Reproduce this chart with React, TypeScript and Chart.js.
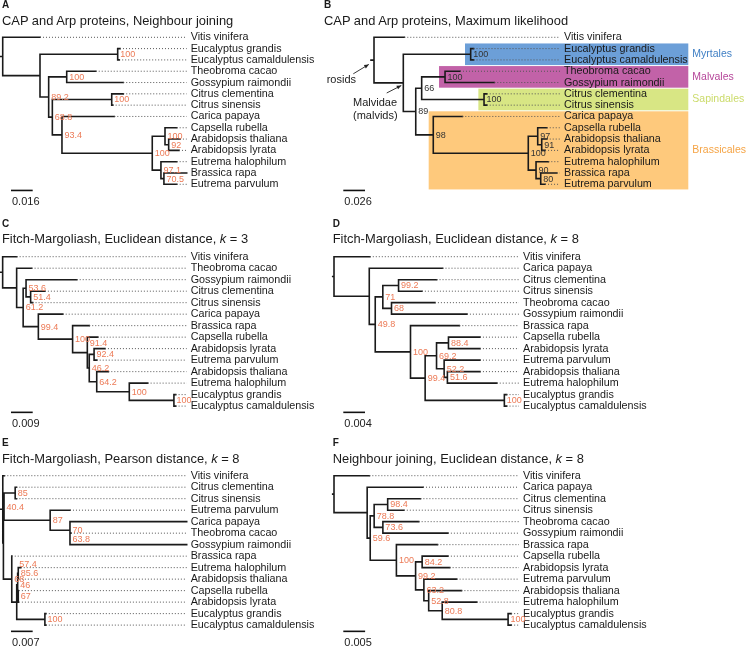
import React, { useEffect, useRef } from "react";
import { Chart, registerables } from "chart.js";
Chart.register(...registerables);

const FONT = "'Liberation Sans', Arial, Helvetica, sans-serif";

// ---------- Panel A : Neighbour joining ----------
const A_tips = ["Vitis vinifera","Eucalyptus grandis","Eucalyptus camaldulensis","Theobroma cacao","Gossypium raimondii","Citrus clementina","Citrus sinensis","Carica papaya","Capsella rubella","Arabidopsis thaliana","Arabidopsis lyrata","Eutrema halophilum","Brassica rapa","Eutrema parvulum"];
const A_tipX = [0.0275,0.0865,0.0859,0.0686,0.0889,0.0889,0.0811,0.0823,0.1283,0.1307,0.1300,0.1283,0.1357,0.1283];
const A_nodes = ["root","n1","euc","n2","malv","n3","cit","n4","bra","ca","ara","eb","be"];
const A_nodeX = [0,0.0275,0.0848,0.0339,0.0472,0.0366,0.0804,0.0437,0.1103,0.1197,0.1224,0.1167,0.1189];
const A_kids = [["t0","n1"],["euc","n2"],["t1","t2"],["malv","n3"],["t3","t4"],["cit","n4"],["t5","t6"],["t7","bra"],["ca","eb"],["t8","ara"],["t9","t10"],["t11","be"],["t12","t13"]];
const A_support = ["","","100","89.2","100","68.8","100","93.4","100","100","92","97.1","70.5"];
const A_xRange = [-0.002, 0.1357];
const A_bar = 0.016;

// ---------- Panel B : Maximum likelihood ----------
const B_tips = A_tips;
const B_tipX = [0.0363,0.1192,0.1192,0.1030,0.1441,0.1350,0.1350,0.1058,0.2069,0.2069,0.2049,0.2088,0.2189,0.2049];
const B_nodes = ["root","n1","euc","n2","n3","malv","cit","n4","bra","ca","ara","eb","be"];
const B_nodeX = [0,0.0351,0.1158,0.0500,0.0571,0.0851,0.1318,0.0710,0.1848,0.1961,0.2009,0.1941,0.1997];
const B_kids = [["t0","n1"],["euc","n2"],["t1","t2"],["n3","n4"],["malv","cit"],["t3","t4"],["t5","t6"],["t7","bra"],["ca","eb"],["t8","ara"],["t9","t10"],["t11","be"],["t12","t13"]];
const B_support = ["","","100","89","66","100","100","98","100","97","91","90","80"];
const B_xRange = [-0.0036, 0.2228];
const B_bar = 0.026;
const B_clades = ["Myrtales","Malvales","Sapindales","Brassicales"];
const B_cladeFirst = [1,3,5,7];
const B_cladeLast = [2,4,6,13];
const B_cladeX = [0.1090,0.0779,0.1250,0.0655];

// ---------- Panel C : FM Euclidean k=3 ----------
const C_tips = ["Vitis vinifera","Theobroma cacao","Gossypium raimondii","Citrus clementina","Citrus sinensis","Carica papaya","Brassica rapa","Capsella rubella","Arabidopsis lyrata","Eutrema parvulum","Arabidopsis thaliana","Eutrema halophilum","Eucalyptus grandis","Eucalyptus camaldulensis"];
const C_tipX = [0.0058,0.0120,0.0307,0.0175,0.0124,0.0249,0.0359,0.0394,0.0424,0.0390,0.0438,0.0601,0.0717,0.0717];
const C_nodes = ["root","n1","n612","n536","cit","n4","n5","n6","n7","n8","n9","n10","euc"];
const C_nodeX = [0,0.0058,0.0085,0.0097,0.0116,0.0148,0.0290,0.0351,0.0359,0.0379,0.0390,0.0525,0.0710];
const C_kids = [["t0","n1"],["t1","n612"],["n536","n4"],["t2","cit"],["t3","t4"],["t5","n5"],["t6","n6"],["t7","n7"],["n8","n9"],["t8","t9"],["t10","n10"],["t11","euc"],["t12","t13"]];
const C_support = ["","","61.2","53.6","51.4","99.4","100","91.4","46.2","92.4","64.2","100","100"];
const C_xRange = [-0.0011, 0.0763];
const C_bar = 0.009;

// ---------- Panel D : FM Euclidean k=8 ----------
const D_tips = ["Vitis vinifera","Carica papaya","Citrus clementina","Citrus sinensis","Theobroma cacao","Gossypium raimondii","Brassica rapa","Capsella rubella","Arabidopsis lyrata","Eutrema parvulum","Arabidopsis thaliana","Eutrema halophilum","Eucalyptus grandis","Eucalyptus camaldulensis"];
const D_tipX = [0.0066,0.0200,0.0189,0.0162,0.0186,0.0245,0.0231,0.0269,0.0269,0.0269,0.0269,0.0300,0.0318,0.0318];
const D_nodes = ["root","n1","n2","n3","cit","malv","n4","n5","n6","ca","n7","n8","euc"];
const D_nodeX = [0,0.0065,0.0076,0.0090,0.0119,0.0106,0.0141,0.0168,0.0189,0.0211,0.0203,0.0209,0.0314];
const D_kids = [["t0","n1"],["t1","n2"],["n3","n4"],["cit","malv"],["t2","t3"],["t4","t5"],["t6","n5"],["n6","euc"],["ca","n7"],["t7","t8"],["t9","n8"],["t10","t11"],["t12","t13"]];
const D_support = ["","","49.8","71","99.2","68","100","99.4","69.2","88.4","52.2","51.6","100"];
const D_xRange = [-0.00024, 0.0341];
const D_bar = 0.004;

// ---------- Panel E : FM Pearson k=8 ----------
const E_tips = ["Vitis vinifera","Citrus clementina","Citrus sinensis","Eutrema parvulum","Carica papaya","Theobroma cacao","Gossypium raimondii","Brassica rapa","Eutrema halophilum","Arabidopsis thaliana","Capsella rubella","Arabidopsis lyrata","Eucalyptus grandis","Eucalyptus camaldulensis"];
const E_tipX = [0.0005,0.0044,0.0044,0.0217,0.0594,0.0220,0.0594,0.0029,0.0058,0.0052,0.0052,0.0052,0.0139,0.0139];
const E_nodes = ["root","x","n404","cit","n87","n70","n638","n68","nb","n46","p1","p2","euc"];
const E_nodeX = [0,0.0002,0.0004,0.0040,0.0153,0.0217,0.0217,0.0029,0.0045,0.0048,0.0050,0.0050,0.0136];
const E_kids = [["t0","x"],["n404","n68"],["cit","n87"],["t1","t2"],["t3","n70"],["t4","n638"],["t5","t6"],["t7","nb"],["n46","euc"],["p1","p2"],["t8","t9"],["t10","t11"],["t12","t13"]];
const E_support = ["","","40.4","85","87","70","63.8","68","57.4","46","85.6","67","100"];
const E_xRange = [-0.0009, 0.0594];
const E_bar = 0.007;

// ---------- Panel F : NJ Euclidean k=8 ----------
const F_tips = D_tips;
const F_tipX = [0.0081,0.0204,0.0198,0.0160,0.0194,0.0261,0.0237,0.0261,0.0265,0.0281,0.0292,0.0327,0.0406,0.0406];
const F_nodes = ["root","n1","n2","n3","cit","malv","n4","n5","ca","n6","n7","n8","euc"];
const F_nodeX = [0,0.0076,0.0083,0.0092,0.0123,0.0112,0.0143,0.0187,0.0202,0.0206,0.0217,0.0248,0.0399];
const F_kids = [["t0","n1"],["t1","n2"],["n3","n4"],["cit","malv"],["t2","t3"],["t4","t5"],["t6","n5"],["ca","n6"],["t7","t8"],["t9","n7"],["t10","n8"],["t11","euc"],["t12","t13"]];
const F_support = ["","","59.6","78.8","98.4","73.6","100","99.2","84.2","63.2","52.8","80.8","100"];
const F_xRange = [-0.0003, 0.0424];
const F_bar = 0.005;

const ORANGE = "#ec7a56";
const GAP = { x: null, y: null };

const PANELS: any[] = [
  { id: "A", tips: A_tips, tipX: A_tipX, nodes: A_nodes, nodeX: A_nodeX, kids: A_kids, support: A_support, xRange: A_xRange, bar: A_bar,
    left: 0, top: 0, w: 324, h: 215, pad: { left: 0, top: 31.65, bottom: 25.05, right: 0 }, axisW: 137.3, barX: 11, sup: ORANGE },
  { id: "B", tips: B_tips, tipX: B_tipX, nodes: B_nodes, nodeX: B_nodeX, kids: B_kids, support: B_support, xRange: B_xRange, bar: B_bar,
    left: 324, top: 0, w: 423, h: 215, pad: { left: 47, top: 31.65, bottom: 25.05, right: 0 }, axisW: 187, barX: 19.3, sup: "#333333", clades: true },
  { id: "C", tips: C_tips, tipX: C_tipX, nodes: C_nodes, nodeX: C_nodeX, kids: C_kids, support: C_support, xRange: C_xRange, bar: C_bar,
    left: 0, top: 215, w: 324, h: 215, pad: { left: 0, top: 35.95, bottom: 18.15, right: 0 }, axisW: 137.3, barX: 11, sup: ORANGE,
    labelShift: { n6: -10 } },
  { id: "D", tips: D_tips, tipX: D_tipX, nodes: D_nodes, nodeX: D_nodeX, kids: D_kids, support: D_support, xRange: D_xRange, bar: D_bar,
    left: 324, top: 215, w: 423, h: 215, pad: { left: 8.7, top: 35.95, bottom: 18.15, right: 0 }, axisW: 228, barX: 19.3, sup: ORANGE },
  { id: "E", tips: E_tips, tipX: E_tipX, nodes: E_nodes, nodeX: E_nodeX, kids: E_kids, support: E_support, xRange: E_xRange, bar: E_bar,
    left: 0, top: 430, w: 324, h: 219, pad: { left: 0, top: 39.95, bottom: 18.15, right: 0 }, axisW: 137.3, barX: 11, sup: ORANGE,
    labelShift: { nb: -38 } },
  { id: "F", tips: F_tips, tipX: F_tipX, nodes: F_nodes, nodeX: F_nodeX, kids: F_kids, support: F_support, xRange: F_xRange, bar: F_bar,
    left: 324, top: 430, w: 423, h: 219, pad: { left: 8.7, top: 39.95, bottom: 18.15, right: 0 }, axisW: 228, barX: 19.3, sup: ORANGE },
];

const TITLES: any[] = [
  { l: "A", x: 2, cap: 1.7, t: <>CAP and Arp proteins, Neighbour joining</> },
  { l: "B", x: 324, cap: 1.7, t: <>CAP and Arp proteins, Maximum likelihood</> },
  { l: "C", x: 2, cap: 220, t: <>Fitch-Margoliash, Euclidean distance, <i>k</i> = 3</> },
  { l: "D", x: 332.7, cap: 220, t: <>Fitch-Margoliash, Euclidean distance, <i>k</i> = 8</> },
  { l: "E", x: 2, cap: 439.3, t: <>Fitch-Margoliash, Pearson distance, <i>k</i> = 8</> },
  { l: "F", x: 332.7, cap: 439.3, t: <>Neighbour joining, Euclidean distance, <i>k</i> = 8</> },
];

const CLADE_FILL = ["#6c9fd8", "#c262a8", "#d8e684", "#fec97c"];
const CLADE_TEXT = ["#3f7fc4", "#b6479a", "#cbdb6a", "#f5a445"];

function buildTree(p: any) {
  const X: any = {}, Y: any = {}, K: any = {};
  p.tips.forEach((_: any, i: number) => { X["t" + i] = p.tipX[i]; Y["t" + i] = i; });
  p.nodes.forEach((id: string, j: number) => { X[id] = p.nodeX[j]; K[id] = p.kids[j]; });
  const gy = (id: string): number => {
    if (Y[id] === undefined) {
      const k = K[id];
      Y[id] = (gy(k[0]) + gy(k[k.length - 1])) / 2;
    }
    return Y[id];
  };
  p.nodes.forEach(gy);
  const branches: any[] = [];
  p.nodes.forEach((id: string) => {
    const k = K[id];
    branches.push({ x: X[id], y: Y[k[0]] }, { x: X[id], y: Y[k[k.length - 1]] }, GAP);
    k.forEach((c: string) => branches.push({ x: X[id], y: Y[c] }, { x: X[c], y: Y[c] }, GAP));
  });
  const root = p.nodes[0];
  branches.push({ x: p.xRange[0], y: Y[root] }, { x: X[root], y: Y[root] }, GAP);
  const dots: any[] = [];
  p.tipX.forEach((tx: number, i: number) => {
    if (tx < p.xRange[1] - 1e-6) dots.push({ x: tx, y: i }, { x: p.xRange[1], y: i }, GAP);
  });
  return { X, Y, branches, dots };
}

function arrow(ctx: any, x0: number, y0: number, x1: number, y1: number) {
  ctx.save();
  ctx.strokeStyle = "#222"; ctx.fillStyle = "#222"; ctx.lineWidth = 0.9;
  ctx.beginPath(); ctx.moveTo(x0, y0); ctx.lineTo(x1, y1); ctx.stroke();
  const a = Math.atan2(y1 - y0, x1 - x0);
  ctx.beginPath();
  ctx.moveTo(x1, y1);
  ctx.lineTo(x1 - 5 * Math.cos(a - 0.4), y1 - 5 * Math.sin(a - 0.4));
  ctx.lineTo(x1 - 5 * Math.cos(a + 0.4), y1 - 5 * Math.sin(a + 0.4));
  ctx.closePath(); ctx.fill();
  ctx.restore();
}

function TreeChart({ p }: { p: any }) {
  const ref = useRef<HTMLCanvasElement>(null);
  useEffect(() => {
    const t = buildTree(p);
    const n = p.tips.length;
    const plugin = {
      id: "tree" + p.id,
      beforeDraw(chart: any) {
        if (!p.clades) return;
        const { ctx, chartArea } = chart;
        const xs = chart.scales.x, ys = chart.scales.y;
        ctx.save();
        B_clades.forEach((name: string, i: number) => {
          const x0 = xs.getPixelForValue(B_cladeX[i]);
          const y0 = ys.getPixelForValue(B_cladeFirst[i] - 0.5) + 0.5;
          const y1 = ys.getPixelForValue(B_cladeLast[i] + 0.5) - 0.5;
          ctx.fillStyle = CLADE_FILL[i];
          ctx.fillRect(x0, y0, chartArea.right + 128.3 - x0, y1 - y0);
          ctx.fillStyle = CLADE_TEXT[i];
          ctx.font = `10.5px ${FONT}`;
          ctx.textBaseline = "middle";
          ctx.fillText(name, chartArea.right + 132.3, (y0 + y1) / 2);
        });
        ctx.restore();
      },
      afterDatasetsDraw(chart: any) {
        const { ctx } = chart;
        const xs = chart.scales.x, ys = chart.scales.y;
        const shift = p.labelShift || {};
        ctx.save();
        ctx.font = `9px ${FONT}`;
        ctx.fillStyle = p.sup;
        ctx.textBaseline = "middle";
        p.nodes.forEach((id: string, j: number) => {
          const s = p.support[j];
          if (!s) return;
          ctx.fillText(s, xs.getPixelForValue(t.X[id]) + 2.5, ys.getPixelForValue(t.Y[id]) + 0.5 + (shift[id] || 0));
        });
        ctx.restore();
      },
      afterDraw(chart: any) {
        const { ctx, chartArea } = chart;
        const xs = chart.scales.x, ys = chart.scales.y;
        ctx.save();
        const len = xs.getPixelForValue(p.bar) - xs.getPixelForValue(0);
        const by = chartArea.bottom + 0.5;
        ctx.strokeStyle = "#111"; ctx.lineWidth = 1.6;
        ctx.beginPath(); ctx.moveTo(p.barX, by); ctx.lineTo(p.barX + len, by); ctx.stroke();
        ctx.fillStyle = "#222"; ctx.font = `11px ${FONT}`; ctx.textBaseline = "alphabetic";
        ctx.fillText(String(p.bar), p.barX + 1, by + 14.4);
        if (p.clades) {
          const rx = xs.getPixelForValue(t.X.root), ry = ys.getPixelForValue(t.Y.root);
          const mx = xs.getPixelForValue(t.X.n1), my = ys.getPixelForValue(t.Y.n1);
          ctx.fillText("rosids", rx - 47.3, ry + 23);
          arrow(ctx, rx - 20.7, ry + 13.7, rx - 5.2, ry + 4.3);
          ctx.fillText("Malvidae", mx - 50.3, my + 23.5);
          ctx.fillText("(malvids)", mx - 50.3, my + 36.3);
          arrow(ctx, mx - 16.6, my + 10.1, mx - 2.0, my + 2.6);
        }
        ctx.restore();
      },
    };
    const chart = new Chart(ref.current as HTMLCanvasElement, {
      type: "line",
      data: {
        datasets: [
          { data: t.dots, borderColor: "#555", borderWidth: 1, borderDash: [1, 2], pointRadius: 0, spanGaps: false, clip: false, tension: 0 } as any,
          { data: t.branches, borderColor: "#1a1a1a", borderWidth: 1.6, pointRadius: 0, spanGaps: false, clip: false, tension: 0, borderCapStyle: "square" } as any,
        ],
      },
      options: {
        animation: false,
        responsive: true,
        maintainAspectRatio: false,
        events: [],
        layout: { padding: p.pad },
        plugins: { legend: { display: false }, tooltip: { enabled: false }, title: { display: false } },
        scales: {
          x: { type: "linear", min: p.xRange[0], max: p.xRange[1], display: false },
          y: {
            type: "linear", min: -0.5, max: n - 0.5, reverse: true, position: "right",
            grid: { display: false, drawTicks: false }, border: { display: false },
            afterBuildTicks: (axis: any) => { axis.ticks = p.tips.map((_: any, i: number) => ({ value: i })); },
            afterFit: (axis: any) => { axis.width = p.axisW; },
            ticks: {
              autoSkip: false, padding: 4, color: "#1a1a1a",
              font: { family: FONT, size: 10.75 },
              callback: (v: any) => p.tips[v] ?? "",
            },
          },
        },
      } as any,
      plugins: [plugin],
    });
    return () => chart.destroy();
  }, []);
  return (
    <div style={{ position: "absolute", left: p.left, top: p.top, width: p.w, height: p.h }}>
      <canvas ref={ref} />
    </div>
  );
}

export default function App() {
  return (
    <div style={{ position: "absolute", left: 0, top: 0, width: 747, height: 649, background: "#fff", overflow: "hidden", fontFamily: FONT, color: "#1a1a1a" }}>
      {PANELS.map((p) => <TreeChart key={p.id} p={p} />)}
      {TITLES.map((t) => (
        <React.Fragment key={t.l}>
          <div style={{ position: "absolute", left: t.x, top: t.cap - 1.3, fontSize: 10, fontWeight: "bold", lineHeight: 1, whiteSpace: "nowrap" }}>{t.l}</div>
          <div style={{ position: "absolute", left: t.x, top: t.cap + 15 - 1.7, fontSize: 12.9, lineHeight: 1, whiteSpace: "nowrap" }}>{t.t}</div>
        </React.Fragment>
      ))}
    </div>
  );
}
